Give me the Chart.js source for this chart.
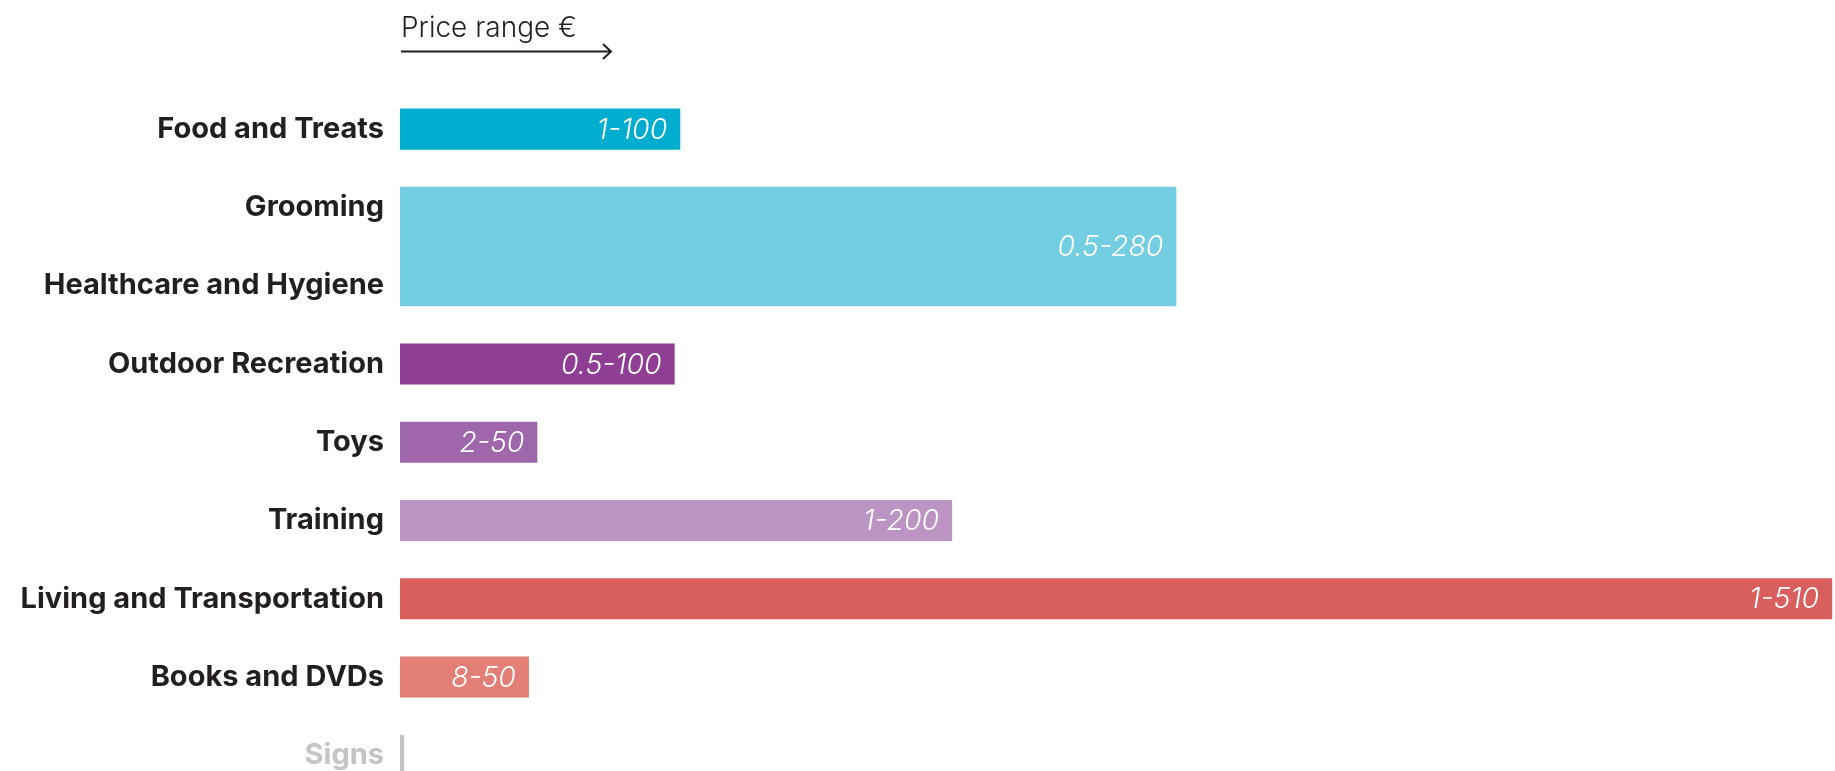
<!DOCTYPE html>
<html>
<head>
<meta charset="utf-8">
<script src="https://cdn.jsdelivr.net/npm/chart.js@4"></script>
<style>
  html, body { margin: 0; padding: 0; background: #fff; }
  canvas { display: block; }
</style>
</head>
<body>
<canvas id="priceChart" width="1835" height="771"></canvas>
<script>
// categories shown on the left, top to bottom
const categories = [
  "Food and Treats",
  "Grooming",
  "Healthcare and Hygiene",
  "Outdoor Recreation",
  "Toys",
  "Training",
  "Living and Transportation",
  "Books and DVDs",
  "Signs",
];

// which categories each bar covers (Grooming + Healthcare share one bar)
const barCovers = [
  ["Food and Treats"],
  ["Grooming", "Healthcare and Hygiene"],
  ["Outdoor Recreation"],
  ["Toys"],
  ["Training"],
  ["Living and Transportation"],
  ["Books and DVDs"],
  ["Signs"],
];

// top of price range (bar length), €
const maxPrices = [100, 277, 98, 49, 197, 511, 46, 1.5];
const rangeLabels = ["1-100", "0.5-280", "0.5-100", "2-50", "1-200", "1-510", "8-50", ""];
const barColors = ["#00adcf", "#72cee0", "#8e3f94", "#a066ab", "#bb94c4", "#d95f5e", "#e47f77", "#c4c4c9"];

const datasets = barCovers.map((cover, i) => {
  const idx = cover.map((c) => categories.indexOf(c));
  const lo = Math.min(...idx);
  const hi = Math.max(...idx);
  return {
    label: rangeLabels[i],
    data: [{ x: maxPrices[i], y: (lo + hi) / 2 }],
    backgroundColor: barColors[i],
    borderWidth: 0,
    grouped: false,
    categoryPercentage: 1,
    barPercentage: hi - lo + 0.525,
  };
});

// "Price range €" header with arrow, and range text inside bars
const decorations = {
  id: "decorations",
  afterDatasetsDraw(chart) {
    const ctx = chart.ctx;
    const left = chart.scales.x.getPixelForValue(0) + 1;

    ctx.save();
    ctx.fillStyle = "#231f20";
    ctx.font = "300 28px Inter";
    ctx.textAlign = "left";
    ctx.textBaseline = "alphabetic";
    ctx.fillText("Price range €", left, 37);

    ctx.strokeStyle = "#231f20";
    ctx.lineWidth = 2;
    ctx.beginPath();
    ctx.moveTo(left, 51.5);
    ctx.lineTo(left + 210, 51.5);
    ctx.moveTo(left + 202, 44);
    ctx.lineTo(left + 210, 51.5);
    ctx.lineTo(left + 202, 59);
    ctx.stroke();

    ctx.fillStyle = "#ffffff";
    ctx.font = "italic 300 28.5px Inter";
    ctx.textAlign = "right";
    ctx.textBaseline = "middle";
    chart.data.datasets.forEach((ds, i) => {
      const bar = chart.getDatasetMeta(i).data[0];
      if (!ds.label) return;
      ctx.fillText(ds.label, bar.x - 13, bar.y + 1);
    });
    ctx.restore();
  },
};

new Chart(document.getElementById("priceChart"), {
  type: "bar",
  data: { datasets: datasets },
  options: {
    indexAxis: "y",
    responsive: false,
    animation: false,
    layout: { padding: { top: 90, right: 0, bottom: 0, left: 0 } },
    plugins: {
      legend: { display: false },
      tooltip: { enabled: false },
    },
    scales: {
      x: { type: "linear", min: 0, max: 512, display: false },
      y: {
        type: "linear",
        min: -0.5,
        max: 8.2,
        offset: false,
        reverse: true,
        grid: { display: false, drawTicks: false, offset: false },
        border: { display: false },
        ticks: {
          autoSkip: false,
          padding: 16,
          font: { family: "Inter", weight: "bold", size: 29 },
          color: (c) => (categories[c.tick.value] === "Signs" ? "#c4c4c9" : "#231f20"),
          callback: (v) => categories[v] ?? "",
        },
        afterBuildTicks(scale) {
          // one tick per category row, keep the cut-off bottom row
          scale.ticks = categories.map((_, i) => ({ value: i }));
          scale.min = -0.5;
          scale.max = 8.2;
        },
        afterFit(scale) {
          scale.width = 400;
          scale.paddingTop = 0;
          scale.paddingBottom = 0;
        },
      },
    },
  },
  plugins: [decorations],
});
</script>
</body>
</html>
